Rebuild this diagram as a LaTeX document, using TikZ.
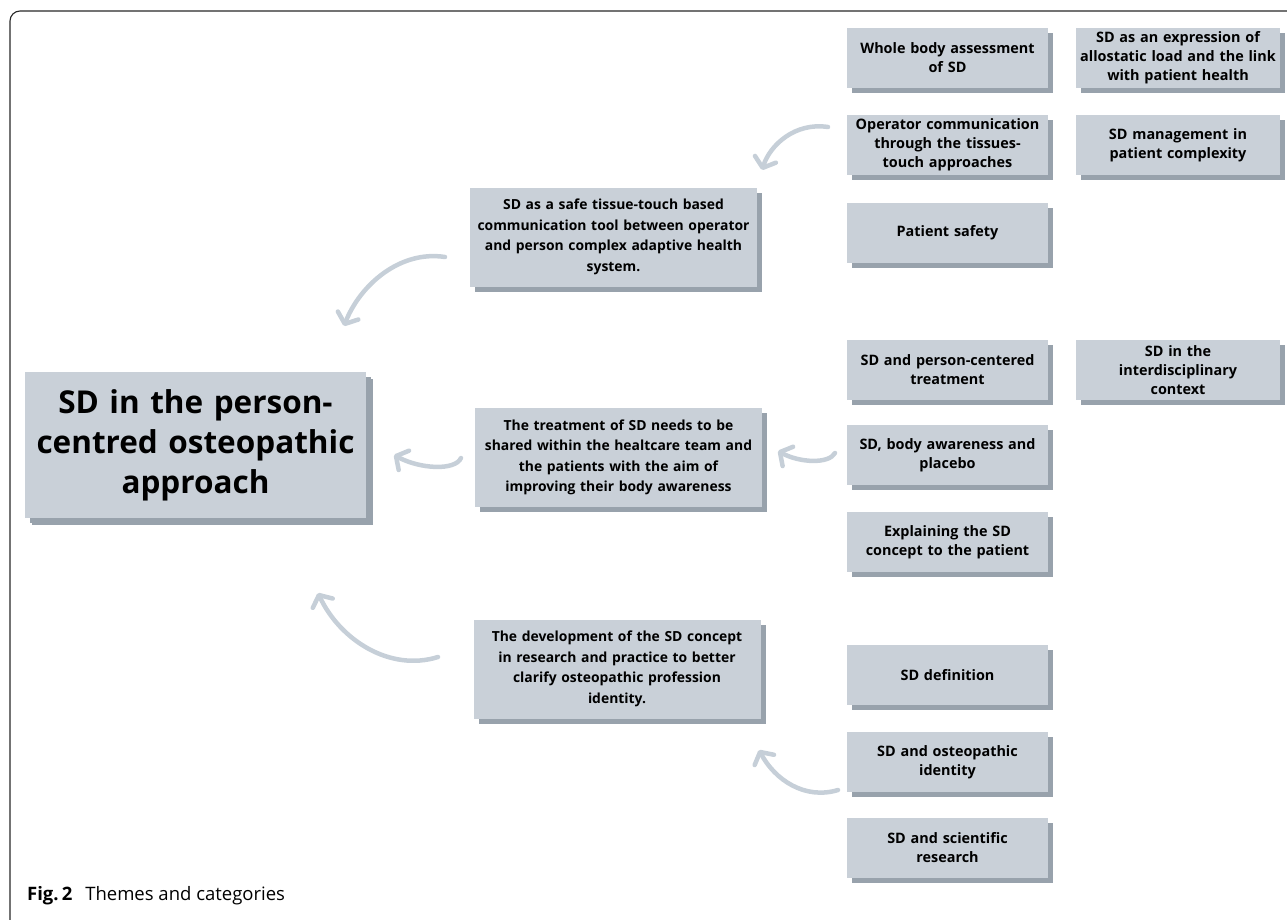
\documentclass[tikz,border=0pt]{standalone}
\usepackage{fontspec}
\setmainfont{Open Sans}
\usetikzlibrary{arrows.meta}
\definecolor{boxfill}{RGB}{201,208,216}
\definecolor{shadowcol}{RGB}{152,162,172}
\definecolor{arrowcol}{RGB}{198,207,216}
\definecolor{framecol}{RGB}{40,40,40}
\tikzset{
  sbox/.style={fill=boxfill, inner sep=0pt, align=center,
    preaction={fill=shadowcol, transform canvas={xshift=5pt,yshift=-5pt}}},
  catbox/.style={sbox, minimum width=201pt, minimum height=60pt, text width=199pt,
    font=\fontsize{14.4}{19}\selectfont\bfseries},
  catboxb/.style={catbox, minimum width=204pt, text width=202pt},
  themebox/.style={sbox, minimum width=287pt, minimum height=99pt, text width=285pt,
    font=\fontsize{13.9}{20.5}\selectfont\bfseries},
  mainbox/.style={sbox, minimum width=341pt, minimum height=146pt, text width=339pt,
    font=\fontsize{31.5}{40}\selectfont\bfseries,
    preaction={fill=shadowcol, transform canvas={xshift=7pt,yshift=-7pt}}},
  curvy/.style={draw=arrowcol, line width=4.5pt, line cap=round,
    -{Straight Barb[length=9pt,width=22pt,round]}},
}
\begin{document}
\begin{tikzpicture}[x=1pt,y=-1pt]
\useasboundingbox (0,0) rectangle (1287,919);
\draw[framecol, line width=1.1pt, rounded corners=10pt] (10,925) -- (10,11) -- (1295,11);

% main theme
\node[mainbox] (main) at (195.5,445) {SD in the person-\\centred osteopathic\\approach};

% themes
\node[themebox] (t1) at (613.5,237) {SD as a safe tissue-touch based\\communication tool between operator\\and person complex adaptive health\\system.};
\node[themebox] (t2) at (618.5,457.5) {The treatment of SD needs to be\\shared within the healtcare team and\\the patients with the aim of\\improving their body awareness};
\node[themebox] (t3) at (617,669) {The development of the SD concept\\in research and practice to better\\clarify osteopathic profession\\identity.};

% categories column 1
\node[catbox] (c1) at (947.5,58) {Whole body assessment\\of SD};
\node[catbox] (c2) at (947.5,145) {Operator communication\\through the tissues-\\touch approaches};
\node[catbox] (c3) at (947.5,233) {Patient safety};
\node[catbox] (c4) at (947.5,370) {SD and person-centered\\treatment};
\node[catbox] (c5) at (947.5,455) {SD, body awareness and\\placebo};
\node[catbox] (c6) at (947.5,542) {Explaining the SD\\concept to the patient};
\node[catbox] (c7) at (947.5,675) {SD definition};
\node[catbox] (c8) at (947.5,762) {SD and osteopathic\\identity};
\node[catbox] (c9) at (947.5,848) {SD and scientific\\research};

% categories column 2
\node[catboxb] (d1) at (1178,58) {SD as an expression of\\allostatic load and the link\\with patient health};
\node[catboxb] (d2) at (1178,145) {SD management in\\patient complexity};
\node[catboxb] (d3) at (1178,370) {SD in the\\interdisciplinary\\context};

% arrow end points
\coordinate (a1s) at (828,127);  \coordinate (a1e) at (762,170);
\coordinate (a2s) at (445,257);  \coordinate (a2e) at (344,326);
\coordinate (a3s) at (461,458);  \coordinate (a3e) at (394,455);
\coordinate (a4s) at (835,453);  \coordinate (a4e) at (778,451);
\coordinate (a5s) at (438,657);  \coordinate (a5e) at (318,593);
\coordinate (a6s) at (838,790);  \coordinate (a6e) at (759,750);

\draw[curvy] (a1s) .. controls (795,122) and (770,145) .. (a1e);
\draw[curvy] (a2s) .. controls (400,250) and (360,285) .. (a2e);
\draw[curvy] (a3s) .. controls (455,471) and (420,469) .. (a3e);
\draw[curvy] (a4s) .. controls (829,464) and (800,463) .. (a4e);
\draw[curvy] (a5s) .. controls (390,672) and (340,640) .. (a5e);
\draw[curvy] (a6s) .. controls (805,800) and (775,780) .. (a6e);

% caption
\node[anchor=base west, inner sep=0pt, font=\fontsize{18.5}{22}\selectfont] (cap) at (27,900)
  {\textbf{Fig.\,2}\hspace{0.7em}Themes and categories};
\end{tikzpicture}
\end{document}
